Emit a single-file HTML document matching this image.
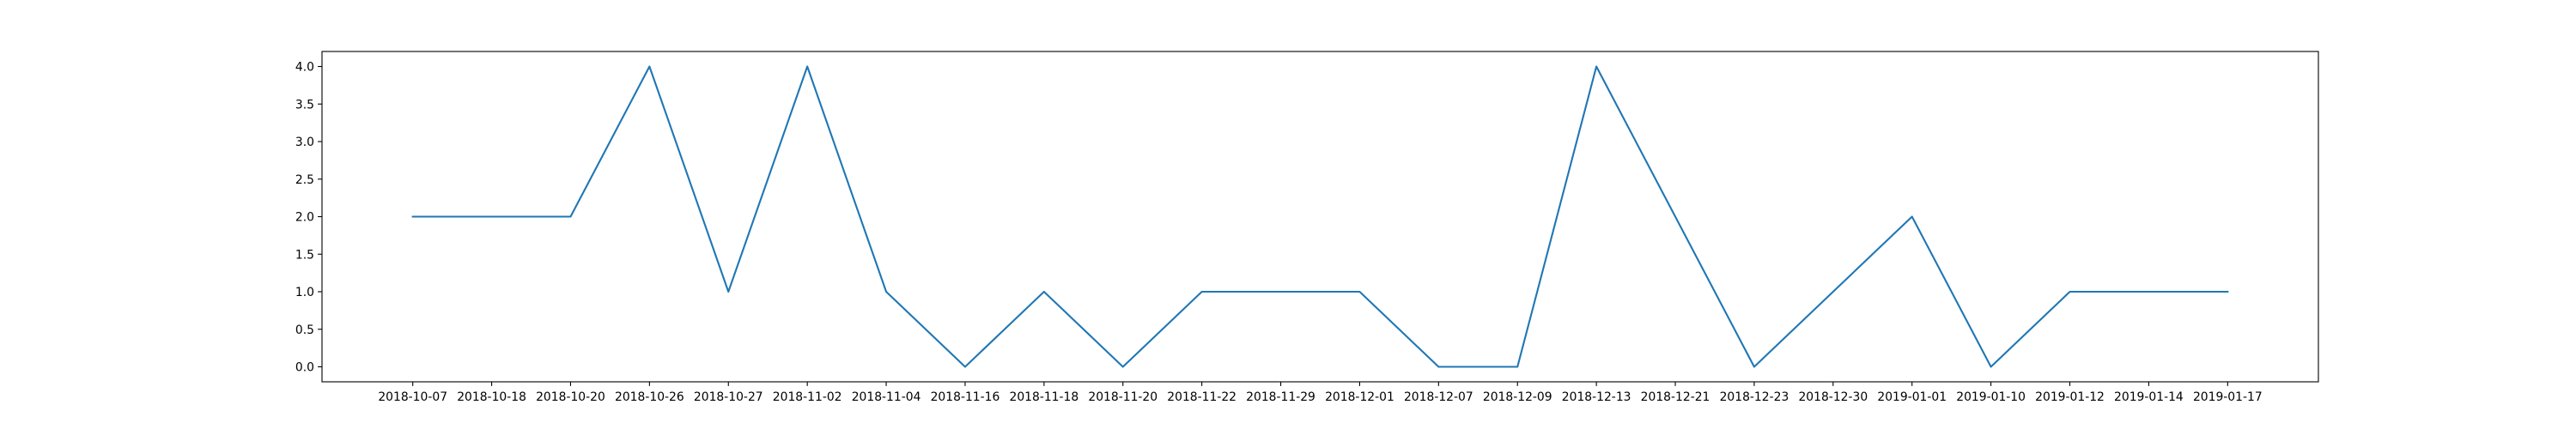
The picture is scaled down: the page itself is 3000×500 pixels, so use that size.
<!DOCTYPE html>
<html><head><meta charset="utf-8"><style>
html,body{margin:0;padding:0;background:#fff;}
svg{display:block;}
text{font-family:"DejaVu Sans","Liberation Sans",sans-serif;font-size:13.9px;fill:#000;}
</style></head><body>
<svg id="chart" width="3000" height="500" xmlns="http://www.w3.org/2000/svg">
<rect x="0" y="0" width="3000" height="500" fill="#fff"/>
<g id="plot"></g>
</svg>
<script>
const categories = ["2018-10-07","2018-10-18","2018-10-20","2018-10-26","2018-10-27","2018-11-02","2018-11-04","2018-11-16","2018-11-18","2018-11-20","2018-11-22","2018-11-29","2018-12-01","2018-12-07","2018-12-09","2018-12-13","2018-12-21","2018-12-23","2018-12-30","2019-01-01","2019-01-10","2019-01-12","2019-01-14","2019-01-17"];
const values = [2,2,2,4,1,4,1,0,1,0,1,1,1,0,0,4,2,0,1,2,0,1,1,1];
const yTicks = [0,0.5,1,1.5,2,2.5,3,3.5,4];
const yTickLabels = ["0.0","0.5","1.0","1.5","2.0","2.5","3.0","3.5","4.0"];

const L=375,R=2700,T=60,B=445;
const NS="http://www.w3.org/2000/svg";
const g=document.getElementById('plot');
const n=categories.length;
const xMin=-0.05*(n-1), xMax=(n-1)*1.05;
const vMin=Math.min(...values), vMax=Math.max(...values);
const pad=(vMax-vMin)*0.05||0.5;
const yMin=vMin-pad, yMax=vMax+pad;
function xs(i){return L+(i-xMin)/(xMax-xMin)*(R-L);}
function ys(v){return B-(v-yMin)/(yMax-yMin)*(B-T);}
function mk(tag,attrs){const e=document.createElementNS(NS,tag);for(const k in attrs)e.setAttribute(k,attrs[k]);g.appendChild(e);return e;}

categories.forEach((c,i)=>{
  const x=xs(i);
  const t=mk('line',{x1:x,x2:x,y1:B,y2:B+4.9,stroke:'#000','stroke-width':1.1});
  
  
  const lb=mk('text',{x:x,y:B+22,'text-anchor':'middle'});
  lb.textContent=c;
  
  
});
yTicks.forEach((v,i)=>{
  const y=ys(v);
  const t=mk('line',{x1:L-4.9,x2:L,y1:y,y2:y,stroke:'#000','stroke-width':1.1});
  
  
  const lb=mk('text',{x:L-9,y:y+5,'text-anchor':'end'});
  lb.textContent=yTickLabels[i];
  
  
});
const pts=values.map((v,i)=>xs(i).toFixed(2)+','+ys(v).toFixed(2)).join(' ');
const line=mk('polyline',{points:pts,fill:'none',stroke:'#1f77b4','stroke-width':2.1,'stroke-linejoin':'round','stroke-linecap':'square'});


const frame=mk('rect',{x:L,y:T,width:R-L,height:B-T,fill:'none',stroke:'#000','stroke-width':1.1});


</script>
</body></html>
